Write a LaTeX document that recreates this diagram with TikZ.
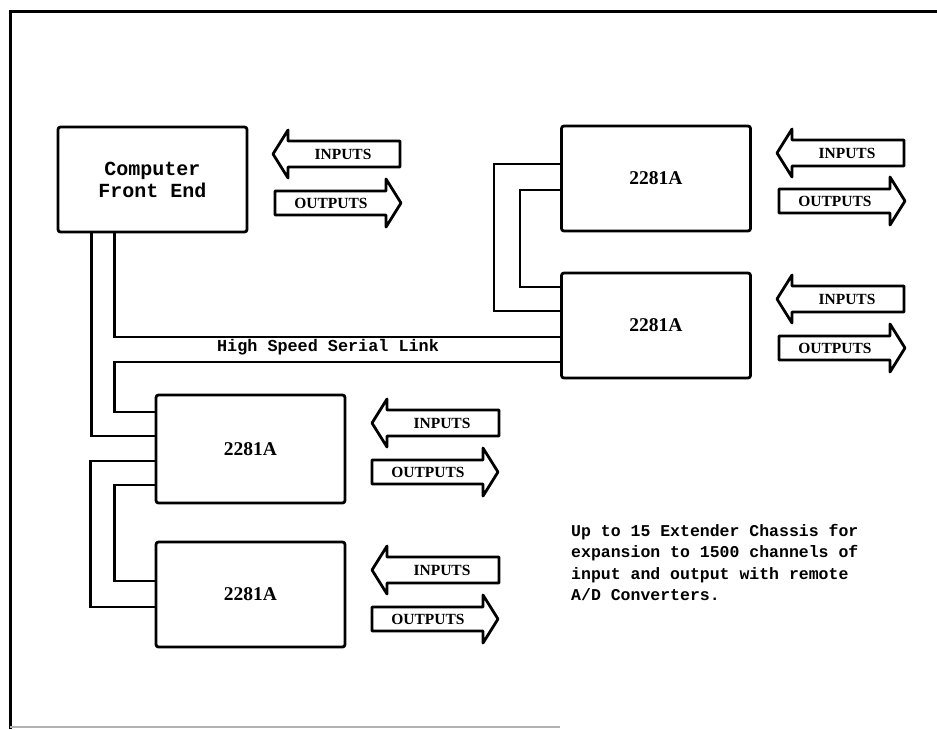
\documentclass[tikz,border=0pt]{standalone}
\usepackage{fontspec}
\setmainfont{Liberation Serif}
\newfontfamily\monob{Liberation Mono}
\usetikzlibrary{calc}
\tikzset{
  unitbox/.style={draw, line width=2.8pt, rounded corners=2.5pt, minimum width=189pt, minimum height=105pt, inner sep=0pt,
    font=\fontsize{19.5}{21}\selectfont\bfseries},
  link/.style={line width=2.6pt},
  ioarrow/.style={draw, line width=2.8pt, line join=round},
  iolabel/.style={inner sep=0pt, font=\fontsize{15.5}{16}\selectfont\bfseries},
  frameline/.style={line width=3pt},
}
\newcommand\inarrow[3]{% name, tip x, center y
  \draw[ioarrow] (#2,#3) -- (#2+15,#3-24) -- (#2+15,#3-13) -- (#2+127,#3-13) -- (#2+127,#3+13) -- (#2+15,#3+13) -- (#2+15,#3+24) -- cycle;
  \node[iolabel] (#1) at (#2+70,#3) {INPUTS};}
\newcommand\outarrow[3]{% name, left x, center y
  \draw[ioarrow] (#2,#3-12) -- (#2+111,#3-12) -- (#2+111,#3-24) -- (#2+126,#3) -- (#2+111,#3+24) -- (#2+111,#3+12) -- (#2,#3+12) -- cycle;
  \node[iolabel] (#1) at (#2+56,#3) {OUTPUTS};}
\begin{document}
\begin{tikzpicture}[x=1pt,y=-1pt]
\useasboundingbox (0,0) rectangle (937,729);
% frame
\draw[frameline] (10,729) -- (10,11) -- (937,11);
\draw[gray!60, line width=1.2pt] (10,727) -- (560,727);
% boxes
\node[unitbox, font=\fontsize{20}{22}\selectfont\monob\bfseries, align=center] (cfe) at (152.5,179.5) {Computer\\Front End};
\node[unitbox] (r1) at (656,178.5) {2281A};
\node[unitbox] (r2) at (656,325.5) {2281A};
\node[unitbox, minimum height=108pt] (l1) at (250.5,449) {2281A};
\node[unitbox] (l2) at (250.5,594.5) {2281A};
% arrows
\inarrow{in0}{273}{154}
\outarrow{out0}{275}{203}
\inarrow{in1}{777}{153}
\outarrow{out1}{779}{201}
\inarrow{in2}{777}{299}
\outarrow{out2}{779}{348}
\inarrow{in3}{372}{423}
\outarrow{out3}{372}{472}
\inarrow{in4}{372}{570}
\outarrow{out4}{372}{619}
% connectors
\draw[link] ($(cfe.south west)+(35,0)$) |- ($(l1.west)+(0,-13)$);
\draw[link] ($(cfe.south west)+(58,0)$) |- ($(r2.west)+(0,11.5)$);
\draw[link] ($(r2.west)+(0,36.5)$) -| ($(l1.west)+(-40,-37)$) -- ($(l1.west)+(0,-37)$);
\draw[link] ($(r1.west)+(0,-14.5)$) -| ($(r2.west)+(-66,-14.5)$) -- ($(r2.west)+(0,-14.5)$);
\draw[link] ($(r1.west)+(0,11.5)$) -| ($(r2.west)+(-40,-38.5)$) -- ($(r2.west)+(0,-38.5)$);
\draw[link] ($(l1.west)+(0,12)$) -| ($(l2.west)+(-64,12.5)$) -- ($(l2.west)+(0,12.5)$);
\draw[link] ($(l1.west)+(0,36)$) -| ($(l2.west)+(-40,-13.5)$) -- ($(l2.west)+(0,-13.5)$);
% texts
\node[inner sep=0pt, font=\fontsize{16.8}{18}\selectfont\monob\bfseries] (hssl) at (328,347) {High Speed Serial Link};
\node[inner sep=0pt, anchor=north west, align=left, font=\fontsize{16.5}{21.5}\selectfont\monob\bfseries] (note) at (571,524)
  {Up to 15 Extender Chassis for\\expansion to 1500 channels of\\input and output with remote\\A/D Converters.};
\end{tikzpicture}
\end{document}
